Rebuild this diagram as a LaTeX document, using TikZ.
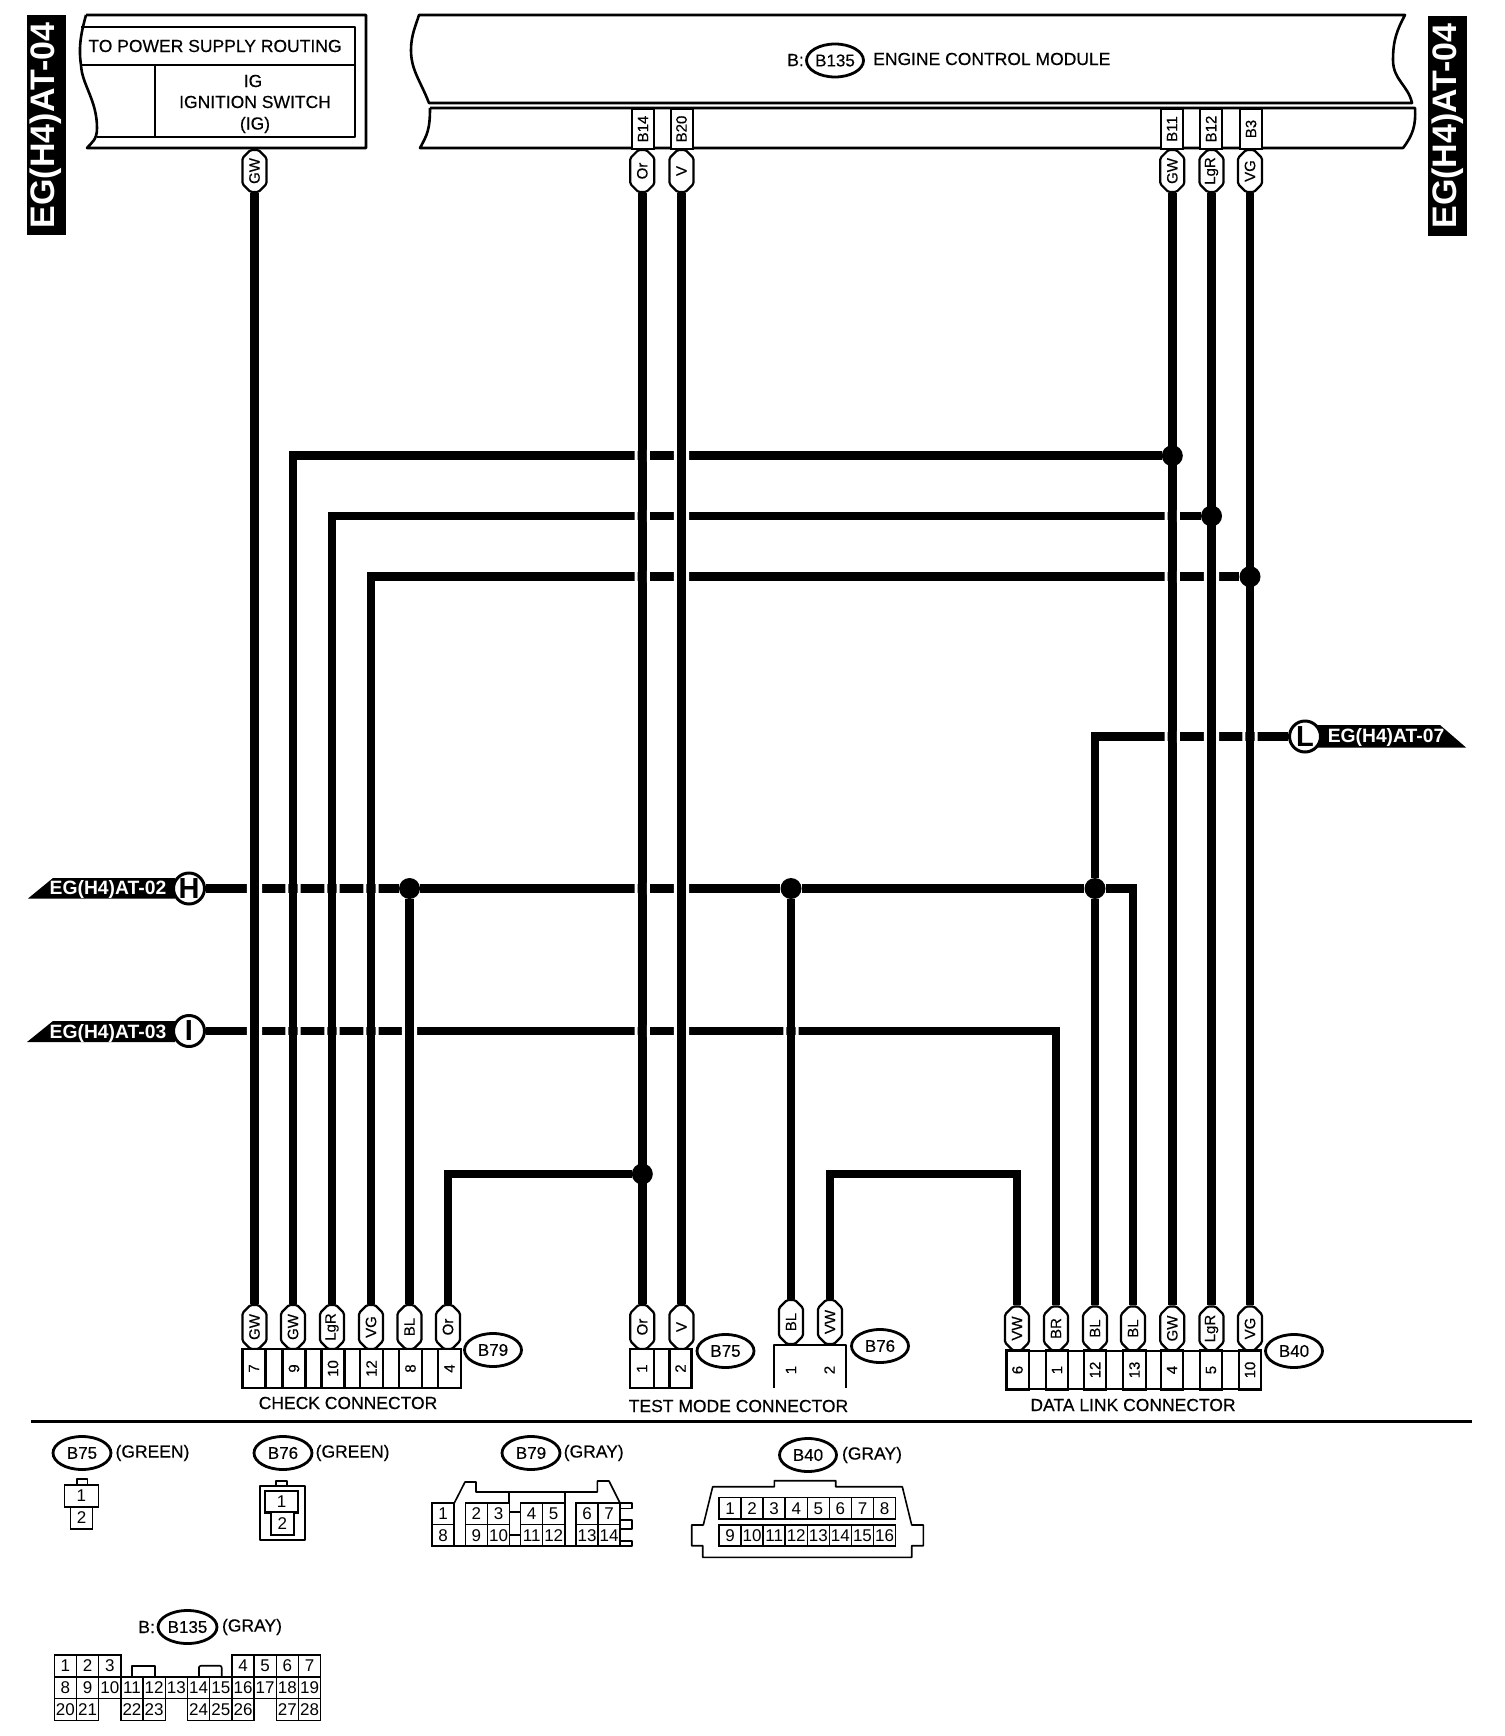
\documentclass[tikz,border=0pt]{standalone}
\usepackage{fontspec}
\setmainfont[RawFeature={embolden=0.35}]{Liberation Sans}
\newfontfamily\plainf{Liberation Sans}
\usetikzlibrary{shapes.misc,shapes.geometric}
\newcommand{\fs}[1]{\fontsize{#1}{#1}\selectfont}
\newcommand{\rot}[1]{\rotatebox{90}{#1}}
\newcommand{\crossgap}[2]{\fill[white,shift={(#1 |- #2)}] (-7.6,-6) rectangle (-4.6,6) (4.6,-6) rectangle (7.6,6);}
\tikzset{
  wire/.style={line width=8.6pt,line cap=butt,line join=miter},
  outline/.style={line width=2.6pt,line join=round},
  thin outline/.style={line width=1.6pt,line join=round},
  pill/.style={chamfered rectangle,chamfered rectangle xsep=3.5pt,chamfered rectangle ysep=4.5pt,rounded corners=1.5pt,draw,line width=2.2pt,fill=white,minimum width=24pt,inner sep=0pt,font=\fs{15}},
  ptop/.style={pill,minimum height=42pt},
  pbot/.style={pill,minimum height=44pt},
  tagbox/.style={rectangle,draw,line width=2pt,fill=white,minimum width=22pt,minimum height=40pt,inner sep=0pt,font=\fs{15}},
  pincell/.style={rectangle,draw,line width=2.2pt,fill=white,minimum height=39pt,inner sep=0pt,font=\fs{15}},
  junction/.style={circle,fill=black,minimum size=21pt,inner sep=0pt},
  oval/.style={ellipse,draw,line width=2.8pt,fill=white,minimum width=57pt,minimum height=33pt,inner sep=0pt,font=\fs{17}},
  letterdot/.style={circle,draw,line width=3pt,fill=white,minimum size=31pt,inner sep=0pt,font=\plainf\fs{29}\bfseries},
  label/.style={inner sep=0pt,font=\fs{17.5}},
  sheet/.style={inner sep=0pt,text=white,font=\plainf\fs{19.3}\bfseries},
  bigsheet/.style={rectangle,fill=black,text=white,inner sep=0pt,minimum width=39pt,minimum height=220pt,font=\plainf\fs{34}\bfseries},
  cell/.style={rectangle,draw,line width=1.5pt,fill=white,inner sep=0pt,minimum width=22.2pt,minimum height=21.7pt,font=\plainf\fs{17}},
}
\begin{document}
\begin{tikzpicture}[x=1pt,y=-1pt]
\useasboundingbox (0,0) rectangle (1504,1736);
\fill[white] (0,0) rectangle (1504,1736);

% page references
\node[bigsheet] (refL) at (46,125.5) {\rot{EG(H4)AT-04}};
\node[bigsheet] (refR) at (1447.5,126) {\rot{EG(H4)AT-04}};

% power supply box
\draw[outline] (86,15) -- (366,15) -- (366,148) -- (87,148) .. controls (92,142) and (97,140) .. (97,128) .. controls (97,100) and (82,85) .. (81,65) .. controls (78,45) and (82,30) .. (86,15);
\draw[outline] (81,27) -- (355,27) -- (355,137) -- (97,137);
\draw[outline] (81,65) -- (355,65);
\draw[outline] (155,65) -- (155,137);
\node[label] (psu) at (215,46) {TO POWER SUPPLY ROUTING};
\node[label] (ig1) at (253,81) {IG};
\node[label] (ig2) at (255,102) {IGNITION SWITCH};
\node[label] (ig3) at (255,125) {(IG)};

% engine control module
\draw[outline] (429,103) .. controls (420,80) and (411,70) .. (411,50) .. controls (411,35) and (416,25) .. (419,15) -- (1405,15) .. controls (1397,30) and (1393,40) .. (1393,60) .. controls (1393,80) and (1408,85) .. (1412,103) -- cycle;
\draw[outline] (430,108) -- (1415,108) .. controls (1416,125) and (1413,135) .. (1403,148) -- (420,148) .. controls (427,135) and (430,130) .. (430,108);
\node[label,anchor=east] (ecmB) at (804,60) {B:};
\node[oval] (ecmOval) at (835,60.5) {B135};
\node[label,anchor=west] (ecmName) at (873,59) {ENGINE CONTROL MODULE};

\node[tagbox] (tB14) at (643,129) {\rot{B14}};
\node[tagbox] (tB20) at (681.5,129) {\rot{B20}};
\node[tagbox] (tB11) at (1172,129) {\rot{B11}};
\node[tagbox] (tB12) at (1211,129) {\rot{B12}};
\node[tagbox] (tB3) at (1251,129) {\rot{B3}};

% top wire labels
\node[ptop] (tGW) at (254.5,171) {\rot{GW}};
\node[ptop] (tOr) at (642.3,171) {\rot{Or}};
\node[ptop] (tV) at (681.5,171) {\rot{V}};
\node[ptop] (tGWr) at (1172.3,171) {\rot{GW}};
\node[ptop] (tLgR) at (1211.5,171) {\rot{LgR}};
\node[ptop] (tVG) at (1250,171) {\rot{VG}};

% bottom wire labels
\node[pbot] (cGWa) at (254.5,1327) {\rot{GW}};
\node[pbot] (cGWb) at (293,1327) {\rot{GW}};
\node[pbot] (cLgR) at (332,1327) {\rot{LgR}};
\node[pbot] (cVG) at (371,1327) {\rot{VG}};
\node[pbot] (cBL) at (409.5,1327) {\rot{BL}};
\node[pbot] (cOr) at (448,1327) {\rot{Or}};
\node[pbot] (mOr) at (642.3,1327) {\rot{Or}};
\node[pbot] (mV) at (681.5,1327) {\rot{V}};
\node[pbot] (nBL) at (791,1322) {\rot{BL}};
\node[pbot] (nVW) at (830,1322) {\rot{VW}};
\node[pbot] (dVW) at (1017,1328.5) {\rot{VW}};
\node[pbot] (dBR) at (1056,1328.5) {\rot{BR}};
\node[pbot] (dBLa) at (1095,1328.5) {\rot{BL}};
\node[pbot] (dBLb) at (1133,1328.5) {\rot{BL}};
\node[pbot] (dGW) at (1172.3,1328.5) {\rot{GW}};
\node[pbot] (dLgR) at (1211.5,1328.5) {\rot{LgR}};
\node[pbot] (dVGb) at (1250,1328.5) {\rot{VG}};

% off-page tags
\fill[black] (28,898.5) -- (53,878) -- (175,878) -- (175,898.5) -- cycle;
\fill[black] (27,1042) -- (53,1021) -- (175,1021) -- (175,1042) -- cycle;
\fill[black] (1305,725) -- (1440,725) -- (1466,747.5) -- (1305,747.5) -- cycle;
\node[sheet] (shH) at (108,890) {EG(H4)AT-02};
\node[sheet] (shI) at (108,1033) {EG(H4)AT-03};
\node[sheet] (shL) at (1386,738) {EG(H4)AT-07};
\node[letterdot] (dotH) at (189,888.5) {H};
\node[letterdot] (dotI) at (189,1031) {I};
\node[letterdot] (dotL) at (1305,736.5) {L};

% junctions
\node[junction] (j1) at (1172.3,455.7) {};
\node[junction] (j2) at (1211.5,516) {};
\node[junction] (j3) at (1250,576.7) {};
\node[junction] (jA) at (409.5,888.5) {};
\node[junction] (jB) at (791,888.5) {};
\node[junction] (jC) at (1095,888.5) {};
\node[junction] (jD) at (642.3,1174) {};
\coordinate (cVW) at (830,1174);

% wires
\draw[wire] (tGW.south) -- (cGWa.north);
\draw[wire] (j1) -| (cGWb.north);
\draw[wire] (j2) -| (cLgR.north);
\draw[wire] (j3) -| (cVG.north);
\draw[wire] (tOr.south) -- (mOr.north);
\draw[wire] (tV.south) -- (mV.north);
\draw[wire] (tGWr.south) -- (dGW.north);
\draw[wire] (tLgR.south) -- (dLgR.north);
\draw[wire] (tVG.south) -- (dVGb.north);
\draw[wire] (dotH) -- (jA);
\draw[wire] (jA) -- (jB);
\draw[wire] (jB) -- (jC);
\draw[wire] (jC) -| (dBLb.north);
\draw[wire] (jA) -- (cBL.north);
\draw[wire] (jB) -- (nBL.north);
\draw[wire] (jC) -- (dBLa.north);
\draw[wire] (jC) |- (dotL);
\draw[wire] (dotI) -| (dBR.north);
\draw[wire] (jD) -| (cOr.north);
\draw[wire] (nVW.north) -- (cVW) -| (dVW.north);

% breaks where wires cross
\foreach \h in {j1,j2,j3} {\crossgap{tOr}{\h}\crossgap{tV}{\h}}
\foreach \h in {j2,j3} {\crossgap{tGWr}{\h}}
\crossgap{tLgR}{j3}
\foreach \v in {tGWr,tLgR,tVG} {\crossgap{\v}{dotL}}
\foreach \v in {tGW,cGWb,cLgR,cVG,tOr,tV} {\crossgap{\v}{dotH}}
\foreach \v in {tGW,cGWb,cLgR,cVG,cBL,tOr,tV,nBL} {\crossgap{\v}{dotI}}

% check connector
\foreach \n/\x in {7/254,9/294,10/333,12/371.5,8/410.5,4/449.5}{%
  \node[pincell,minimum width=23pt] (chk\n) at (\x,1368.5) {\rot{\n}};}
\draw[outline] (242,1349) rectangle (461,1388);
\node[label] (chkName) at (348,1403) {CHECK CONNECTOR};
\node[oval] (ov79) at (493,1350) {B79};

% test mode connector
\node[pincell,minimum width=24pt] (tst1) at (642,1368.5) {\rot{1}};
\node[pincell,minimum width=22pt] (tst2) at (680.5,1368.5) {\rot{2}};
\draw[outline] (630,1349) rectangle (691,1388);
\node[label] (tstName) at (738.5,1406) {TEST MODE CONNECTOR};
\node[oval] (ov75) at (725.5,1351) {B75};

% B76 body
\draw[outline] (774,1388) -- (774,1345) -- (846,1345) -- (846,1388);
\node[inner sep=0pt,font=\fs{15}] (n76a) at (791,1370) {\rot{1}};
\node[inner sep=0pt,font=\fs{15}] (n76b) at (829.5,1370) {\rot{2}};
\node[oval] (ov76) at (880,1346) {B76};

% data link connector
\foreach \n/\x in {6/1017.5,1/1057,12/1095,13/1134.5,4/1172,5/1211,10/1250}{%
  \node[pincell,minimum width=22.5pt] (dl\n) at (\x,1370) {\rot{\n}};}
\draw[outline] (1006.5,1351) rectangle (1261,1389);
\node[label] (dlName) at (1133,1405) {DATA LINK CONNECTOR};
\node[oval] (ov40) at (1294,1351) {B40};

% separator
\draw[line width=3pt] (31,1421) -- (1472,1421);

% legend: B75
\node[oval,minimum width=58pt] (lg75) at (82,1453) {B75};
\node[label] (lg75c) at (152.5,1453) {(GREEN)};
\draw[thin outline] (76.7,1485) -- (76.7,1479) -- (87.3,1479) -- (87.3,1485);
\node[cell,minimum width=34pt,minimum height=22pt] (s75a) at (81.3,1496) {1};
\node[cell,minimum width=22pt,minimum height=22pt] (s75b) at (81.7,1518) {2};

% legend: B76
\node[oval,minimum width=58pt] (lg76) at (283,1453) {B76};
\node[label] (lg76c) at (352.6,1453) {(GREEN)};
\draw[thin outline] (276,1486) -- (276,1481) -- (286.7,1481) -- (286.7,1486);
\draw[thin outline] (260,1486) rectangle (305,1540);
\node[cell,line width=2.4pt,minimum width=33pt,minimum height=21.5pt] (s76a) at (281.7,1501.7) {1};
\node[cell,line width=2pt,minimum width=23pt,minimum height=23pt] (s76b) at (282.3,1523.5) {2};

% legend: B79
\node[oval,minimum width=58pt] (lg79) at (531,1453) {B79};
\node[label] (lg79c) at (593.7,1453) {(GRAY)};
\draw[thin outline] (454.3,1503) -- (465,1482) -- (476,1482) -- (476,1492) -- (597.3,1492) -- (597.3,1481) -- (609,1481) -- (620,1503);
\draw[thin outline] (431.7,1546) -- (620,1546);
\draw[thin outline] (454.3,1503) -- (454.3,1546);
\draw[line width=2pt] (509.3,1492) -- (509.3,1546);
\draw[thin outline] (564.7,1492) -- (564.7,1546);
\draw[thin outline] (509.3,1512) -- (520.7,1512) (509.3,1535) -- (520.7,1535);
\draw[thin outline] (620,1503) -- (631.7,1503) -- (631.7,1508.5) -- (620,1508.5);
\draw[thin outline] (620,1520) -- (631.7,1520) -- (631.7,1529) -- (620,1529);
\draw[thin outline] (620,1540.7) -- (631.7,1540.7) -- (631.7,1546) -- (620,1546);
\foreach \a/\b/\x in {1/8/443,2/9/476.3,3/10/498.5,4/11/531.7,5/12/553.7,6/13/587,7/14/609}{%
  \node[cell,minimum width=22pt,minimum height=21.5pt] (s79\a) at (\x,1513.7) {\a};
  \node[cell,minimum width=22pt,minimum height=21.5pt] (s79\b) at (\x,1535.2) {\b};}

% legend: B40
\node[oval,minimum width=57pt] (lg40) at (808,1455) {B40};
\node[label] (lg40c) at (872,1455) {(GRAY)};
\draw[thin outline] (691.7,1525) -- (703.3,1525) -- (712.7,1486.7) -- (774.3,1486.7) -- (774.3,1480.7) -- (835.7,1480.7) -- (835.7,1486.7) -- (902.3,1486.7) -- (911.7,1525) -- (923.3,1525) -- (923.3,1545.7) -- (911.7,1545.7) -- (911.7,1557.3) -- (702.7,1557.3) -- (702.7,1545.7) -- (691.7,1545.7) -- cycle;
\foreach \i [evaluate=\i as \x using 730+22.08*(\i-1), evaluate=\i as \j using int(\i+8)] in {1,...,8}{%
  \node[cell,minimum width=22.08pt,minimum height=21.3pt] (s40\i) at (\x,1508.3) {\i};
  \node[cell,minimum width=22.08pt,minimum height=21pt] (s40\j) at (\x,1535.3) {\j};}
\draw[line width=2pt] (719,1519) -- (895.7,1519);

% legend: B135
\node[label] (lgBb) at (146.6,1627) {B:};
\node[oval,minimum width=59pt] (lg135) at (187.5,1627) {B135};
\node[label] (lg135c) at (252,1627) {(GRAY)};
\draw[thin outline] (131.7,1677.3) -- (131.7,1665.7) -- (155,1665.7) -- (155,1677.3);
\draw[thin outline] (199,1677.3) -- (199,1667) [rounded corners=2pt] -- (199,1665.7) -- (221.7,1665.7) -- (221.7,1677.3);
\foreach \n/\c/\r in {1/0/0,2/1/0,3/2/0,4/8/0,5/9/0,6/10/0,7/11/0,
  8/0/1,9/1/1,10/2/1,11/3/1,12/4/1,13/5/1,14/6/1,15/7/1,16/8/1,17/9/1,18/10/1,19/11/1,
  20/0/2,21/1/2,22/3/2,23/4/2,24/6/2,25/7/2,26/8/2,27/10/2,28/11/2}{%
  \node[cell] (s135\n) at (65.4+22.2*\c,1666+21.7*\r) {\n};}
\end{tikzpicture}
\end{document}
